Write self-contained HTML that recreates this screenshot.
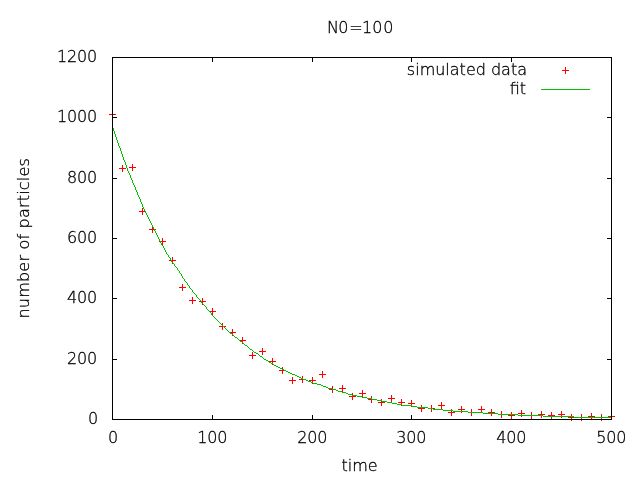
<!DOCTYPE html>
<html lang="en">
<head>
<meta charset="utf-8">
<title>N0=100</title>
<style>
html,body{margin:0;padding:0;background:#fff;}
body{width:640px;height:480px;overflow:hidden;}
svg{display:block;will-change:transform;}
text{font-family:"DejaVu Sans Light","DejaVu Sans","Liberation Sans",sans-serif;font-size:16px;fill:#000;stroke:#000;stroke-width:0.3px;}
.tk{letter-spacing:-0.2px;}
.yl{letter-spacing:0.2px;}
.m{fill:#ff0000;}
.fit{fill:none;stroke:#00c000;stroke-width:1;}
.ax{fill:#000;}
</style>
</head>
<body>
<svg width="640" height="480" viewBox="0 0 640 480">
<rect x="0" y="0" width="640" height="480" fill="#ffffff"/>
<g class="ax" shape-rendering="crispEdges">
<rect x="112" y="415" width="1" height="5"/><rect x="112" y="57" width="1" height="5"/><rect x="212" y="415" width="1" height="5"/><rect x="212" y="57" width="1" height="5"/><rect x="312" y="415" width="1" height="5"/><rect x="312" y="57" width="1" height="5"/><rect x="411" y="415" width="1" height="5"/><rect x="411" y="57" width="1" height="5"/><rect x="511" y="415" width="1" height="5"/><rect x="511" y="57" width="1" height="5"/><rect x="611" y="415" width="1" height="5"/><rect x="611" y="57" width="1" height="5"/><rect x="112" y="419" width="5" height="1"/><rect x="607" y="419" width="5" height="1"/><rect x="112" y="359" width="5" height="1"/><rect x="607" y="359" width="5" height="1"/><rect x="112" y="298" width="5" height="1"/><rect x="607" y="298" width="5" height="1"/><rect x="112" y="238" width="5" height="1"/><rect x="607" y="238" width="5" height="1"/><rect x="112" y="178" width="5" height="1"/><rect x="607" y="178" width="5" height="1"/><rect x="112" y="117" width="5" height="1"/><rect x="607" y="117" width="5" height="1"/><rect x="112" y="57" width="5" height="1"/><rect x="607" y="57" width="5" height="1"/>
</g>
<g class="m" shape-rendering="crispEdges">
<rect x="109" y="114" width="7" height="1"/><rect x="112" y="111" width="1" height="7"/>
<rect x="119" y="168" width="7" height="1"/><rect x="122" y="165" width="1" height="7"/>
<rect x="129" y="167" width="7" height="1"/><rect x="132" y="164" width="1" height="7"/>
<rect x="139" y="211" width="7" height="1"/><rect x="142" y="208" width="1" height="7"/>
<rect x="149" y="229" width="7" height="1"/><rect x="152" y="226" width="1" height="7"/>
<rect x="159" y="241" width="7" height="1"/><rect x="162" y="238" width="1" height="7"/>
<rect x="169" y="260" width="7" height="1"/><rect x="172" y="257" width="1" height="7"/>
<rect x="179" y="287" width="7" height="1"/><rect x="182" y="284" width="1" height="7"/>
<rect x="189" y="300" width="7" height="1"/><rect x="192" y="297" width="1" height="7"/>
<rect x="199" y="301" width="7" height="1"/><rect x="202" y="298" width="1" height="7"/>
<rect x="209" y="311" width="7" height="1"/><rect x="212" y="308" width="1" height="7"/>
<rect x="219" y="326" width="7" height="1"/><rect x="222" y="323" width="1" height="7"/>
<rect x="229" y="332" width="7" height="1"/><rect x="232" y="329" width="1" height="7"/>
<rect x="239" y="340" width="7" height="1"/><rect x="242" y="337" width="1" height="7"/>
<rect x="249" y="355" width="7" height="1"/><rect x="252" y="352" width="1" height="7"/>
<rect x="259" y="351" width="7" height="1"/><rect x="262" y="348" width="1" height="7"/>
<rect x="269" y="361" width="7" height="1"/><rect x="272" y="358" width="1" height="7"/>
<rect x="279" y="370" width="7" height="1"/><rect x="282" y="367" width="1" height="7"/>
<rect x="289" y="380" width="7" height="1"/><rect x="292" y="377" width="1" height="7"/>
<rect x="299" y="379" width="7" height="1"/><rect x="302" y="376" width="1" height="7"/>
<rect x="309" y="380" width="7" height="1"/><rect x="312" y="377" width="1" height="7"/>
<rect x="319" y="374" width="7" height="1"/><rect x="322" y="371" width="1" height="7"/>
<rect x="329" y="389" width="7" height="1"/><rect x="332" y="386" width="1" height="7"/>
<rect x="339" y="388" width="7" height="1"/><rect x="342" y="385" width="1" height="7"/>
<rect x="349" y="396" width="7" height="1"/><rect x="352" y="393" width="1" height="7"/>
<rect x="359" y="393" width="7" height="1"/><rect x="362" y="390" width="1" height="7"/>
<rect x="368" y="399" width="7" height="1"/><rect x="371" y="396" width="1" height="7"/>
<rect x="378" y="402" width="7" height="1"/><rect x="381" y="399" width="1" height="7"/>
<rect x="388" y="398" width="7" height="1"/><rect x="391" y="395" width="1" height="7"/>
<rect x="398" y="402" width="7" height="1"/><rect x="401" y="399" width="1" height="7"/>
<rect x="408" y="403" width="7" height="1"/><rect x="411" y="400" width="1" height="7"/>
<rect x="418" y="408" width="7" height="1"/><rect x="421" y="405" width="1" height="7"/>
<rect x="428" y="408" width="7" height="1"/><rect x="431" y="405" width="1" height="7"/>
<rect x="438" y="405" width="7" height="1"/><rect x="441" y="402" width="1" height="7"/>
<rect x="448" y="412" width="7" height="1"/><rect x="451" y="409" width="1" height="7"/>
<rect x="458" y="409" width="7" height="1"/><rect x="461" y="406" width="1" height="7"/>
<rect x="468" y="412" width="7" height="1"/><rect x="471" y="409" width="1" height="7"/>
<rect x="478" y="409" width="7" height="1"/><rect x="481" y="406" width="1" height="7"/>
<rect x="488" y="412" width="7" height="1"/><rect x="491" y="409" width="1" height="7"/>
<rect x="498" y="414" width="7" height="1"/><rect x="501" y="411" width="1" height="7"/>
<rect x="508" y="415" width="7" height="1"/><rect x="511" y="412" width="1" height="7"/>
<rect x="518" y="413" width="7" height="1"/><rect x="521" y="410" width="1" height="7"/>
<rect x="528" y="415" width="7" height="1"/><rect x="531" y="412" width="1" height="7"/>
<rect x="538" y="414" width="7" height="1"/><rect x="541" y="411" width="1" height="7"/>
<rect x="548" y="415" width="7" height="1"/><rect x="551" y="412" width="1" height="7"/>
<rect x="558" y="414" width="7" height="1"/><rect x="561" y="411" width="1" height="7"/>
<rect x="568" y="417" width="7" height="1"/><rect x="571" y="414" width="1" height="7"/>
<rect x="578" y="417" width="7" height="1"/><rect x="581" y="414" width="1" height="7"/>
<rect x="588" y="416" width="7" height="1"/><rect x="591" y="413" width="1" height="7"/>
<rect x="598" y="417" width="7" height="1"/><rect x="601" y="414" width="1" height="7"/>
<rect x="608" y="416" width="7" height="1"/><rect x="611" y="413" width="1" height="7"/>
<rect x="562" y="70" width="7" height="1"/><rect x="565" y="67" width="1" height="7"/>
</g>
<path fill="#00c000" shape-rendering="crispEdges" d="M112 126h1v2h-1zM113 128h1v3h-1zM114 131h1v3h-1zM115 134h1v3h-1zM116 137h1v3h-1zM117 140h1v3h-1zM118 143h1v3h-1zM119 146h1v2h-1zM120 148h1v3h-1zM121 151h1v3h-1zM122 154h1v3h-1zM123 157h1v3h-1zM124 160h1v2h-1zM125 162h1v3h-1zM126 165h1v3h-1zM127 168h1v3h-1zM128 171h1v2h-1zM129 173h1v2h-1zM130 175h1v3h-1zM131 178h1v2h-1zM132 180h1v3h-1zM133 183h1v2h-1zM134 185h1v2h-1zM135 187h1v3h-1zM136 190h1v2h-1zM137 192h1v3h-1zM138 195h1v2h-1zM139 197h1v2h-1zM140 199h1v3h-1zM141 202h1v2h-1zM142 204h1v3h-1zM143 207h1v2h-1zM144 209h1v2h-1zM145 211h1v2h-1zM146 213h1v2h-1zM147 215h1v2h-1zM148 217h1v2h-1zM149 219h1v2h-1zM150 221h1v2h-1zM151 223h1v2h-1zM152 225h1v2h-1zM153 227h1v2h-1zM154 229h1v2h-1zM155 231h1v2h-1zM156 233h1v2h-1zM157 235h1v2h-1zM158 237h1v2h-1zM159 239h1v2h-1zM160 241h1v2h-1zM161 243h1v2h-1zM162 245h1v1h-1zM163 246h1v2h-1zM164 248h1v2h-1zM165 250h1v2h-1zM166 252h1v2h-1zM167 254h1v1h-1zM168 255h1v2h-1zM169 257h1v1h-1zM170 258h1v2h-1zM171 260h1v2h-1zM172 262h1v1h-1zM173 263h1v1h-1zM174 264h1v2h-1zM175 266h1v1h-1zM176 267h1v1h-1zM177 268h1v2h-1zM178 270h1v1h-1zM179 271h1v2h-1zM180 273h1v1h-1zM181 274h1v2h-1zM182 276h1v2h-1zM183 278h1v1h-1zM184 279h1v2h-1zM185 281h1v1h-1zM186 282h1v1h-1zM187 283h1v2h-1zM188 285h1v1h-1zM189 286h1v2h-1zM190 288h1v1h-1zM191 289h1v1h-1zM192 290h1v2h-1zM193 292h1v1h-1zM194 293h1v1h-1zM195 294h1v1h-1zM196 295h1v2h-1zM197 297h1v1h-1zM198 298h1v1h-1zM199 299h1v1h-1zM200 300h1v1h-1zM201 301h1v2h-1zM202 303h1v1h-1zM203 304h1v1h-1zM204 305h1v1h-1zM205 306h1v1h-1zM206 307h1v2h-1zM207 309h1v1h-1zM208 310h1v1h-1zM209 311h1v1h-1zM210 312h1v1h-1zM211 313h1v2h-1zM212 315h1v1h-1zM213 316h1v1h-1zM214 317h1v1h-1zM215 318h1v1h-1zM216 319h1v1h-1zM217 320h1v1h-1zM218 321h1v1h-1zM219 322h1v1h-1zM220 323h1v1h-1zM221 324h1v1h-1zM222 325h1v1h-1zM223 326h1v1h-1zM224 327h1v1h-1zM225 328h1v1h-1zM226 329h1v1h-1zM227 330h1v1h-1zM228 331h1v1h-1zM229 332h1v1h-1zM230 333h2v1h-2zM232 334h1v1h-1zM233 335h1v1h-1zM234 336h1v1h-1zM235 337h2v1h-2zM237 338h1v1h-1zM238 339h1v1h-1zM239 340h1v1h-1zM240 341h2v1h-2zM242 342h1v1h-1zM243 343h1v1h-1zM244 344h1v1h-1zM245 345h2v1h-2zM247 346h1v1h-1zM248 347h1v1h-1zM249 348h1v1h-1zM250 349h2v1h-2zM252 350h1v1h-1zM253 351h1v1h-1zM254 352h2v1h-2zM256 353h2v1h-2zM258 354h1v1h-1zM259 355h1v1h-1zM260 356h2v1h-2zM262 357h1v1h-1zM263 358h1v1h-1zM264 359h2v1h-2zM266 360h2v1h-2zM268 361h1v1h-1zM269 362h2v1h-2zM271 363h2v1h-2zM273 364h1v1h-1zM274 365h2v1h-2zM276 366h2v1h-2zM278 367h2v1h-2zM280 368h2v1h-2zM282 369h2v1h-2zM284 370h2v1h-2zM286 371h2v1h-2zM288 372h2v1h-2zM290 373h2v1h-2zM292 374h3v1h-3zM295 375h2v1h-2zM297 376h2v1h-2zM299 377h2v1h-2zM301 378h2v1h-2zM303 379h3v1h-3zM306 380h2v1h-2zM308 381h3v1h-3zM311 382h2v1h-2zM313 383h4v1h-4zM317 384h4v1h-4zM321 385h2v1h-2zM323 386h3v1h-3zM326 387h2v1h-2zM328 388h4v1h-4zM332 389h4v1h-4zM336 390h2v1h-2zM338 391h4v1h-4zM342 392h4v1h-4zM346 393h2v1h-2zM348 394h4v1h-4zM352 395h5v1h-5zM357 396h5v1h-5zM362 397h5v1h-5zM367 398h5v1h-5zM372 399h5v1h-5zM377 400h5v1h-5zM382 401h5v1h-5zM387 402h5v1h-5zM392 403h5v1h-5zM397 404h5v1h-5zM402 405h10v1h-10zM412 406h5v1h-5zM417 407h11v1h-11zM428 408h5v1h-5zM433 409h10v1h-10zM443 410h10v1h-10zM453 411h15v1h-15zM468 412h15v1h-15zM483 413h15v1h-15zM498 414h20v1h-20zM518 415h25v1h-25zM543 416h31v1h-31zM574 417h38v1h-38z"/>
<rect x="541" y="89" width="49" height="1" fill="#00c000" shape-rendering="crispEdges"/>
<g class="ax" shape-rendering="crispEdges">
<rect x="112" y="57" width="500" height="1"/><rect x="112" y="419" width="500" height="1"/><rect x="112" y="57" width="1" height="363"/><rect x="611" y="57" width="1" height="363"/>
</g>
<g>
<text class="tk" x="98" y="424" text-anchor="end">0</text>
<text class="tk" x="97" y="364" text-anchor="end">200</text>
<text class="tk" x="97" y="303" text-anchor="end">400</text>
<text class="tk" x="97" y="243" text-anchor="end">600</text>
<text class="tk" x="97" y="183" text-anchor="end">800</text>
<text class="tk" x="97" y="122" text-anchor="end">1000</text>
<text class="tk" x="97" y="62" text-anchor="end">1200</text>
<text class="tk" x="113.0" y="443" text-anchor="middle">0</text>
<text class="tk" x="212.2" y="443" text-anchor="middle">100</text>
<text class="tk" x="312.2" y="443" text-anchor="middle">200</text>
<text class="tk" x="411.2" y="443" text-anchor="middle">300</text>
<text class="tk" x="511.2" y="443" text-anchor="middle">400</text>
<text class="tk" x="611.2" y="443" text-anchor="middle">500</text>
<text x="326.9 338.3 349.3 362 372.3 383.3" y="33">N0=100</text>
<text x="359.5" y="471" text-anchor="middle">time</text>
<text class="yl" transform="translate(29,238.2) rotate(-90)" text-anchor="middle">number of particles</text>
<text x="527" y="75" text-anchor="end">simulated data</text>
<text x="526" y="94" text-anchor="end">fit</text>
</g>
</svg>
</body>
</html>
